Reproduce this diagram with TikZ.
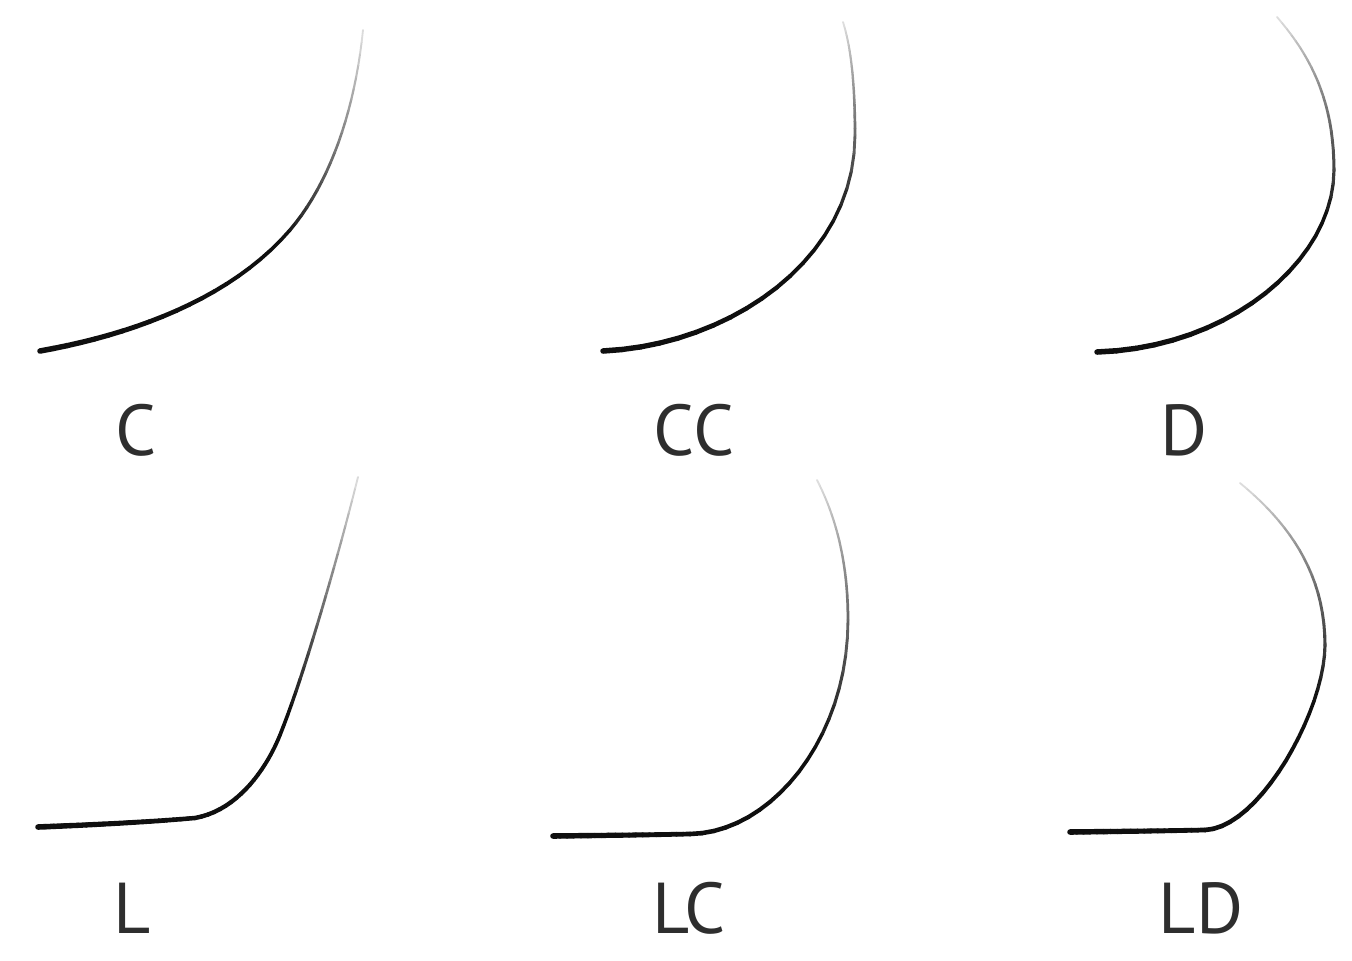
\documentclass[tikz,border=0pt]{standalone}
\usepackage{fontspec}
\setmainfont{PT Sans}
\newcommand\lashseg[2]{\def\fa{#1}\def\fb{#2}\lashsegi}
\def\lashsegi(#1,#2)(#3,#4)(#5,#6)(#7,#8){%
  \foreach \i in {0,...,19}{%
    \pgfmathsetmacro\ta{\i/20}%
    \pgfmathsetmacro\tb{(\i+1)/20}%
    \pgfmathsetmacro\xA{(1-\ta)*(1-\ta)*(1-\ta)*#1+3*(1-\ta)*(1-\ta)*\ta*#3+3*(1-\ta)*\ta*\ta*#5+\ta*\ta*\ta*#7}%
    \pgfmathsetmacro\yA{(1-\ta)*(1-\ta)*(1-\ta)*#2+3*(1-\ta)*(1-\ta)*\ta*#4+3*(1-\ta)*\ta*\ta*#6+\ta*\ta*\ta*#8}%
    \pgfmathsetmacro\xB{(1-\tb)*(1-\tb)*(1-\tb)*#1+3*(1-\tb)*(1-\tb)*\tb*#3+3*(1-\tb)*\tb*\tb*#5+\tb*\tb*\tb*#7}%
    \pgfmathsetmacro\yB{(1-\tb)*(1-\tb)*(1-\tb)*#2+3*(1-\tb)*(1-\tb)*\tb*#4+3*(1-\tb)*\tb*\tb*#6+\tb*\tb*\tb*#8}%
    \pgfmathsetmacro\f{\fa+(\fb-\fa)*(\i+0.5)/20}%
    \pgfmathsetmacro\lw{0.5*(5.6-3.8*\f)}%
    \pgfmathsetmacro\gr{\f<0.55 ? 94 : 94-82*(\f-0.55)/0.45}%
    \draw[lashline, line width=\lw pt, draw=black!\gr] (\xA,\yA) -- (\xB,\yB);
  }}
\begin{document}
\begin{tikzpicture}[x=0.5pt,y=-0.5pt,
  lashline/.style={line cap=round},
  lbl/.style={anchor=base, inner sep=0pt, text=black!82, font=\fontsize{36}{40}\selectfont}]
\useasboundingbox (0,0) rectangle (1352,960);
% C
\lashseg{0}{0.57}(40,351)(130,335)(230,300)(290,230)
\lashseg{0.57}{1}(290,230)(330,183)(355,110)(363,30)
% CC
\lashseg{0}{0.74}(603,351)(730,345)(855,260)(855,135)
\lashseg{0.74}{1}(855,135)(855,90)(852,50)(843,22)
% D
\lashseg{0}{0.66}(1097,352)(1230,348)(1334,260)(1334,170)
\lashseg{0.66}{1}(1334,170)(1334,100)(1310,55)(1277,17)
% L
\lashseg{0}{0.3}(38,827)(90,825)(150,822)(195,818)
\lashseg{0.3}{0.49}(195,818)(240,810)(268,765)(280,735)
\lashseg{0.49}{1}(280,735)(305,673)(340,550)(358,477)
% LC
\lashseg{0}{0.25}(553,836)(600,835.5)(645,835)(690,834)
\lashseg{0.25}{0.74}(690,834)(770,833)(848,740)(848,620)
\lashseg{0.74}{1}(848,620)(848,560)(835,515)(817,480)
% LD
\lashseg{0}{0.24}(1070,832)(1115,831.5)(1160,831)(1205,830)
\lashseg{0.24}{0.65}(1205,830)(1260,828)(1325,710)(1325,645)
\lashseg{0.65}{1}(1325,645)(1325,570)(1285,520)(1240,483)
% labels
\node[lbl] (lC)  at (136,455) {C};
\node[lbl] (lCC) at (694,455) {CC};
\node[lbl] (lD)  at (1184,455) {D};
\node[lbl] (lL)  at (132,933) {L};
\node[lbl] (lLC) at (689,933) {LC};
\node[lbl] (lLD) at (1201,933) {LD};
\end{tikzpicture}
\end{document}
